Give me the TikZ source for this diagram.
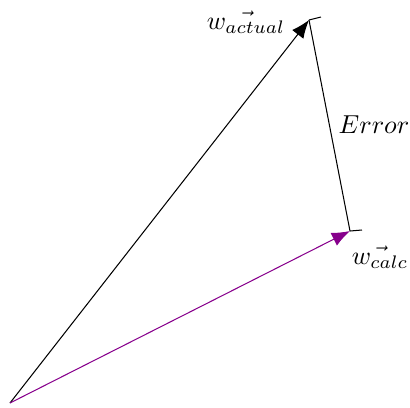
\documentclass[tikz,border=0pt]{standalone}
\usepackage{amsmath}
\definecolor{calcpurple}{RGB}{135,0,140}
\usetikzlibrary{arrows.meta}

\begin{document}
\begin{tikzpicture}[x=0.385pt, y=-0.385pt,
  vecarrow/.style={-{Latex[length=7pt,width=5.5pt]}},
  lbl/.style={inner sep=1pt}]

\useasboundingbox (0,0) rectangle (410,407);

\coordinate (o) at (10,403);
\coordinate (wa) at (309,20);
\coordinate (wc) at (350,231);
\coordinate (wa tick) at (321,17);
\coordinate (wc tick) at (362,230);

% labels
\node[lbl] (la) at (246,22) {$\vec{w_{actual}}$};
\node[lbl] (lc) at (380,257) {$\vec{w_{calc}}$};
\node[lbl] (le) at (374,125) {$Error$};

% vectors
\draw[vecarrow] (o) -- (wa);
\draw[vecarrow, calcpurple] (o) -- (wc);
\draw (wc) -- (wa);
\draw (wa) -- (wa tick);
\draw (wc) -- (wc tick);

\end{tikzpicture}
\end{document}
